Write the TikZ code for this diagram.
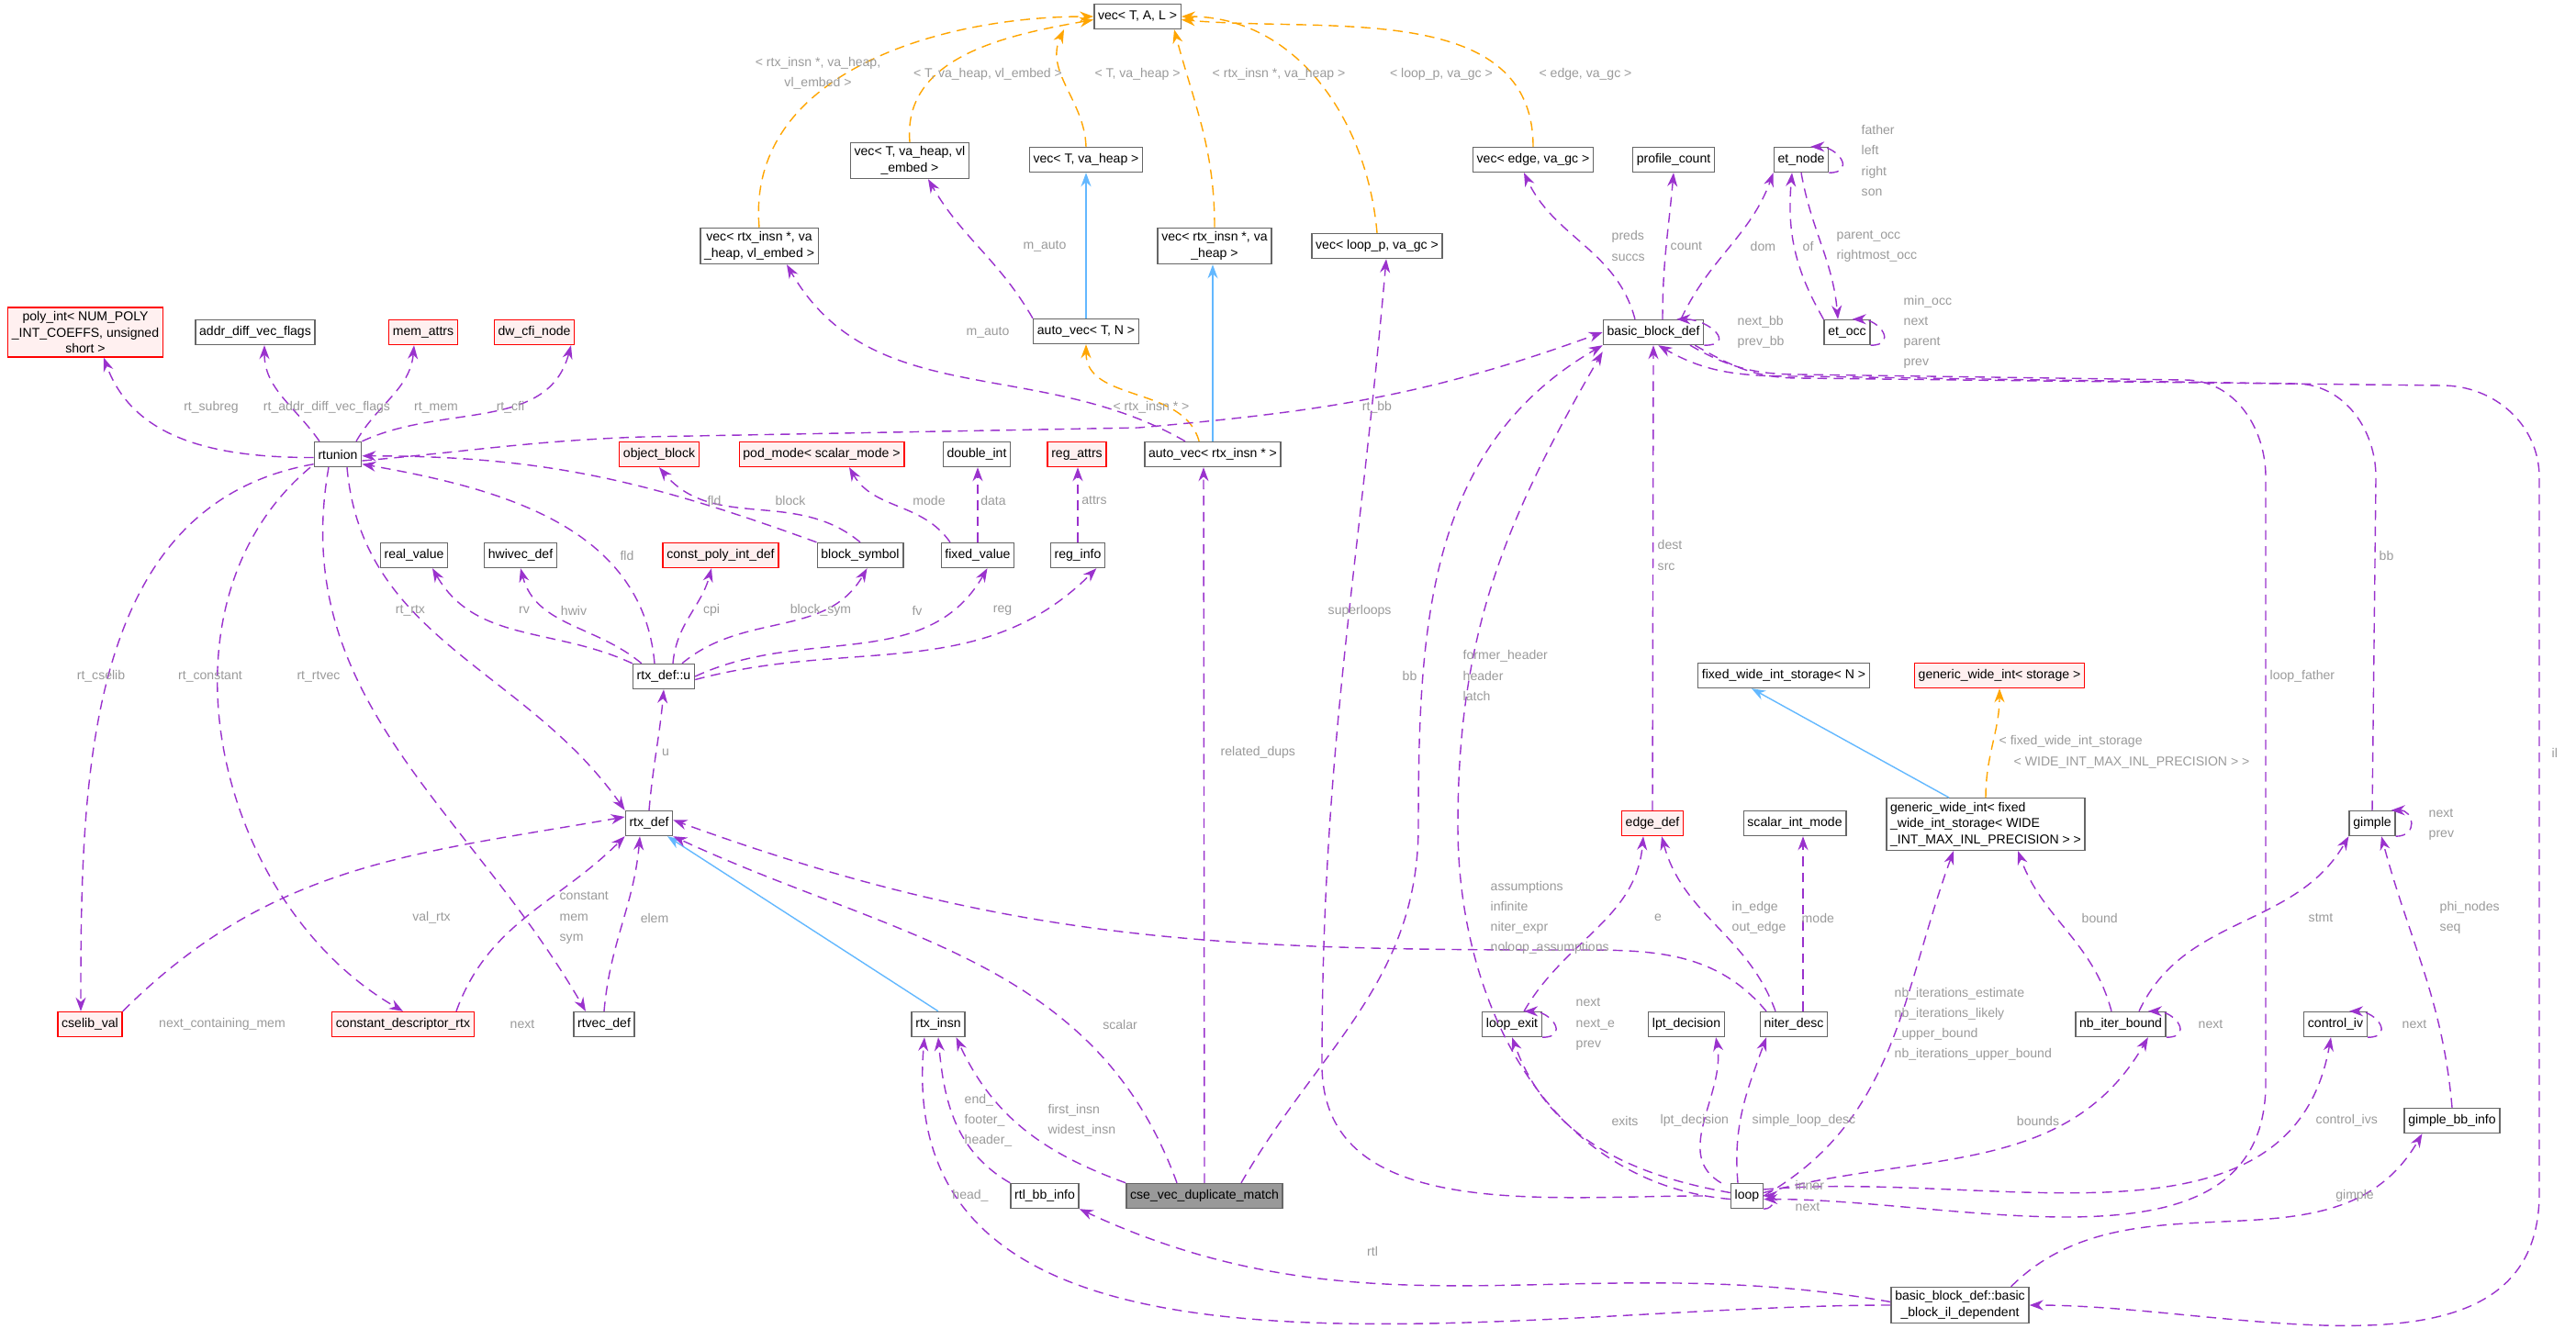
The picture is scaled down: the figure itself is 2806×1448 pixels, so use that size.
\documentclass[tikz,border=0pt]{standalone}
\usepackage{fontspec}
\setmainfont{Liberation Sans}
\usetikzlibrary{arrows.meta}
\definecolor{relcol}{HTML}{9A32CD}
\definecolor{tplcol}{HTML}{FFA500}
\definecolor{inhcol}{HTML}{63B8FF}
\definecolor{lblcol}{HTML}{9A9A9A}
\definecolor{boxcol}{HTML}{666666}
\newcommand{\lt}{\textless}
\newcommand{\gt}{\textgreater}
\begin{document}
\begin{tikzpicture}[x=0.1mm,y=-0.1mm,
  cls/.style={draw=boxcol,fill=white,rectangle,inner sep=1.2pt,minimum height=2.7mm,font=\fontsize{4}{5}\selectfont,align=center},
  undoc/.style={cls,draw=red,fill=red!6},
  cur/.style={cls,fill=black!40},
  rel/.style={draw=relcol,densely dashed,line width=0.4pt,-{Stealth[length=1.5mm,width=1.1mm]}},
  tpl/.style={rel,draw=tplcol,-{Stealth[length=1.5mm,width=1.1mm,fill=tplcol]}},
  inh/.style={draw=inhcol,solid,line width=0.4pt,-{Stealth[length=1.5mm,width=1.1mm,fill=inhcol]}},
  lbl/.style={text=lblcol,font=\fontsize{4}{6.3}\selectfont,inner sep=0pt,align=left},
  lbll/.style={lbl,anchor=west}]
\useasboundingbox (0,0) rectangle (2806,1448);
% classes
\node[cls] (vecTAL) at (1239,18) {vec\lt{} T, A, L \gt};
\node[cls] (vecRIvle) at (827,268) {vec\lt{} rtx\_insn *, va\\\_heap, vl\_embed \gt};
\node[cls] (vecTvle) at (991,175) {vec\lt{} T, va\_heap, vl\\\_embed \gt};
\node[cls] (vecTvh) at (1183,174) {vec\lt{} T, va\_heap \gt};
\node[cls] (vecRIvh) at (1323,268) {vec\lt{} rtx\_insn *, va\\\_heap \gt};
\node[cls] (vecLoop) at (1500,268) {vec\lt{} loop\_p, va\_gc \gt};
\node[cls] (vecEdge) at (1670,174) {vec\lt{} edge, va\_gc \gt};
\node[cls] (profCount) at (1823,174) {profile\_count};
\node[cls] (etNode) at (1962,174) {et\_node};
\node[cls] (bbDef) at (1801,362) {basic\_block\_def};
\node[cls] (etOcc) at (2012,362) {et\_occ};
\node[cls] (autoTN) at (1183,361) {auto\_vec\lt{} T, N \gt};
\node[cls] (autoRI) at (1321,495) {auto\_vec\lt{} rtx\_insn * \gt};
\node[undoc] (polyInt) at (93,362) {poly\_int\lt{} NUM\_POLY\\\_INT\_COEFFS, unsigned\\short \gt};
\node[cls] (addrDiff) at (278,362) {addr\_diff\_vec\_flags};
\node[undoc] (memAttrs) at (461,362) {mem\_attrs};
\node[undoc] (dwCfi) at (582,362) {dw\_cfi\_node};
\node[cls] (rtunion) at (368,495) {rtunion};
\node[undoc] (objBlock) at (718,495) {object\_block};
\node[undoc] (podMode) at (895,495) {pod\_mode\lt{} scalar\_mode \gt};
\node[cls] (doubleInt) at (1064,495) {double\_int};
\node[undoc] (regAttrs) at (1173,495) {reg\_attrs};
\node[cls] (realValue) at (451,605) {real\_value};
\node[cls] (hwivec) at (567,605) {hwivec\_def};
\node[undoc] (constPoly) at (785,605) {const\_poly\_int\_def};
\node[cls] (blockSym) at (937,605) {block\_symbol};
\node[cls] (fixedValue) at (1065,605) {fixed\_value};
\node[cls] (regInfo) at (1174,605) {reg\_info};
\node[cls] (rtxDefU) at (723,737) {rtx\_def::u};
\node[cls] (rtxDef) at (707,897) {rtx\_def};
\node[undoc] (cselibVal) at (98,1116) {cselib\_val};
\node[undoc] (constDesc) at (439,1116) {constant\_descriptor\_rtx};
\node[cls] (rtvecDef) at (658,1116) {rtvec\_def};
\node[cls] (rtxInsn) at (1022,1116) {rtx\_insn};
\node[cls] (rtlBb) at (1138,1303) {rtl\_bb\_info};
\node[cur] (cse) at (1312,1303) {cse\_vec\_duplicate\_match};
\node[cls] (fwiStor) at (1943,736) {fixed\_wide\_int\_storage\lt{} N \gt};
\node[undoc] (gwiStor) at (2178,736) {generic\_wide\_int\lt{} storage \gt};
\node[cls,align=left] (gwiFixed) at (2163,898) {generic\_wide\_int\lt{} fixed\\\_wide\_int\_storage\lt{} WIDE\\\_INT\_MAX\_INL\_PRECISION \gt{} \gt};
\node[undoc] (edgeDef) at (1800,897) {edge\_def};
\node[cls] (scalarMode) at (1955,897) {scalar\_int\_mode};
\node[cls] (gimple) at (2584,897) {gimple};
\node[cls] (loopExit) at (1647,1116) {loop\_exit};
\node[cls] (lptDec) at (1837,1116) {lpt\_decision};
\node[cls] (niterDesc) at (1954,1116) {niter\_desc};
\node[cls] (nbIter) at (2310,1116) {nb\_iter\_bound};
\node[cls] (controlIv) at (2544,1116) {control\_iv};
\node[cls] (gimpleBb) at (2671,1221) {gimple\_bb\_info};
\node[cls] (loop) at (1903,1303) {loop};
\node[cls] (bbIl) at (2135,1422) {basic\_block\_def::basic\\\_block\_il\_dependent};
% templates and inheritance
\draw[tpl] (vecRIvle.north) to[out=95,in=180] (vecTAL.west);
\draw[tpl] (vecTvle.north) to[out=95,in=190] ([yshift=-1pt]vecTAL.west);
\draw[tpl] (vecTvh.north) to[out=92,in=-115] ([xshift=-8mm]vecTAL.south);
\draw[tpl] (vecRIvh.north) to[out=90,in=-75] ([xshift=4mm]vecTAL.south);
\draw[tpl] (vecLoop.north) to[out=95,in=0] (vecTAL.east);
\draw[tpl] (vecEdge.north) to[out=90,in=-5] ([yshift=-1pt]vecTAL.east);
\draw[tpl] ([xshift=6mm]autoRI.north west) to[out=105,in=-90] (autoTN.south);
\draw[tpl] (gwiFixed.north) to[out=90,in=-90] (gwiStor.south);
\draw[inh] (autoTN.north) -- (vecTvh.south);
\draw[inh] (autoRI.north) -- (autoRI.north |- vecRIvh.south);
\draw[inh] (rtxInsn.north) -- ([xshift=2mm]rtxDef.south);
\draw[inh] ([xshift=-4mm]gwiFixed.north) -- ([xshift=-3.5mm]fwiStor.south);
\node[lbl,align=center] (lA) at (891,80) {\lt{} rtx\_insn *, va\_heap,\\vl\_embed \gt};
\node[lbl] (lB) at (1076,81) {\lt{} T, va\_heap, vl\_embed \gt};
\node[lbl] (lC) at (1239,81) {\lt{} T, va\_heap \gt};
\node[lbl] (lD) at (1393,81) {\lt{} rtx\_insn *, va\_heap \gt};
\node[lbl] (lE) at (1570,81) {\lt{} loop\_p, va\_gc \gt};
\node[lbl] (lF) at (1727,81) {\lt{} edge, va\_gc \gt};
\node[lbl] (lG) at (1254,444) {\lt{} rtx\_insn * \gt};
\node[lbll] (lH) at (2177,808) {\lt{} fixed\_wide\_int\_storage};
\node[lbll] (lI) at (2193,831) {\lt{} WIDE\_INT\_MAX\_INL\_PRECISION \gt{} \gt};
% members
\draw[rel] (autoTN.north west) to[out=120,in=-60] ([xshift=2mm]vecTvle.south);
\draw[rel] ([xshift=-3mm]autoRI.north) to[out=150,in=-60] ([xshift=3mm]vecRIvle.south);
\draw[rel] ([yshift=-1pt]rtunion.west) to[out=180,in=-70] ([xshift=2mm]polyInt.south);
\draw[rel] ([xshift=-2mm]rtunion.north) to[out=125,in=-90] ([xshift=1mm]addrDiff.south);
\draw[rel] ([xshift=2mm]rtunion.north) to[out=60,in=-95] ([xshift=-1mm]memAttrs.south);
\draw[rel] (rtunion.north east) to[out=25,in=-105] ([xshift=4mm]dwCfi.south);
\draw[rel] ([yshift=-2pt]rtunion.east) to[out=5,in=182] (700,476) -- (1240,466) to[out=5,in=200] (bbDef.west);
\draw[rel] ([yshift=1pt]rtunion.south west) to[out=190,in=90] ([xshift=-1mm]cselibVal.north);
\draw[rel] ([xshift=-3mm]rtunion.south) to[out=220,in=150] (constDesc.north);
\draw[rel] ([xshift=-1mm]rtunion.south) to[out=260,in=120] ([xshift=-2mm]rtvecDef.north);
\draw[rel] ([xshift=1mm]rtunion.south) to[out=-85,in=125] (rtxDef.north west);
\draw[rel] (blockSym.north) to[out=140,in=-50] (objBlock.south);
\draw[rel] (blockSym.north west) to[out=160,in=0] ([yshift=-0.5pt]rtunion.east);
\draw[rel] ([xshift=-1mm]rtxDefU.north) to[out=95,in=-10] ([yshift=1pt]rtunion.south east);
\draw[rel] ([xshift=-3mm]fixedValue.north) to[out=125,in=-60] ([xshift=3mm]podMode.south);
\draw[rel] (fixedValue.north) -- (fixedValue.north |- doubleInt.south);
\draw[rel] (regInfo.north) -- (regInfo.north |- regAttrs.south);
\draw[rel] (rtxDefU.north west) to[out=155,in=-60] ([xshift=2mm]realValue.south);
\draw[rel] ([xshift=1mm]rtxDefU.north west) to[out=140,in=-75] (hwivec.south);
\draw[rel] ([xshift=1mm]rtxDefU.north) to[out=85,in=-105] ([xshift=-1mm]constPoly.south);
\draw[rel] ([xshift=2mm]rtxDefU.north) to[out=40,in=-120] ([xshift=-4mm]blockSym.south east);
\draw[rel] (rtxDefU.east) to[out=25,in=-120] ([xshift=-3mm]fixedValue.south east);
\draw[rel] ([yshift=-1pt]rtxDefU.east) to[out=15,in=-135] ([xshift=-1mm]regInfo.south east);
\draw[rel] (rtxDef.north) to[out=85,in=-95] (rtxDefU.south);
\draw[rel] (cselibVal.north east) to[out=45,in=190] ([yshift=2pt]rtxDef.west);
\draw[rel] ([xshift=-2mm]constDesc.north east) to[out=70,in=-135] (rtxDef.south west);
\draw[rel] (rtvecDef.north) to[out=85,in=-95] ([xshift=-1mm]rtxDef.south);
\draw[rel] ([xshift=-3mm]cse.north) to[out=110,in=-25] (rtxDef.south east);
\draw[rel] (cse.north west) to[out=160,in=-65] ([xshift=-1mm]rtxInsn.south east);
\draw[rel] (cse.north) -- ([xshift=-1mm]autoRI.south);
\draw[rel] ([xshift=4mm]cse.north) to[out=60,in=-90] (1545,900) to[out=90,in=210] (bbDef.south west);
\draw[rel] (rtlBb.north west) to[out=150,in=-85] (rtxInsn.south);
\draw[rel] (bbIl.west) to[out=180,in=-95] ([xshift=-1.5mm]rtxInsn.south);
\draw[rel] ([yshift=1pt]bbIl.west) to[out=170,in=-25] (rtlBb.south east);
\draw[rel] ([xshift=-2mm]bbIl.north east) to[out=45,in=-120] ([xshift=2mm]gimpleBb.south west);
\draw[rel] ([xshift=-1mm]bbDef.south east) to[out=-30,in=180] (1960,412) -- (2660,420) to[out=0,in=90] (2766,520) -- (2766,1300) to[out=-90,in=0] (bbIl.east);
\draw[rel] ([xshift=-2mm]bbDef.north) to[out=105,in=-65] ([xshift=-1mm]vecEdge.south);
\draw[rel] ([xshift=1mm]bbDef.north) to[out=90,in=-95] (profCount.south);
\draw[rel] ([xshift=3mm]bbDef.north) to[out=65,in=-110] (etNode.south west);
\draw[rel] (bbDef.south east) to[out=0,in=0,looseness=2.2] ([xshift=-3mm]bbDef.north east);
\draw[rel] (etNode.south east) to[out=0,in=0,looseness=2.2] ([xshift=-2mm]etNode.north east);
\draw[rel] (etNode.south) to[out=-80,in=95] ([xshift=-1mm]etOcc.north);
\draw[rel] (etOcc.north west) to[out=120,in=-95] ([xshift=-1mm]etNode.south);
\draw[rel] (etOcc.south east) to[out=0,in=0,looseness=2.2] ([xshift=-2mm]etOcc.north east);
\draw[rel] (edgeDef.north) -- (bbDef.south);
\draw[rel] ([xshift=-3mm]loop.west) to[out=180,in=-90] (1440,1160) to[out=90,in=-95] ([xshift=1mm]vecLoop.south);
\draw[rel] ([yshift=-1pt]loop.west) to[out=175,in=-90] (1588,900) to[out=90,in=-120] ([yshift=-2pt]bbDef.south west);
\draw[rel] ([xshift=4mm]bbDef.south) to[out=-30,in=180] (1960,408) -- (2380,414) to[out=0,in=90] (2468,520) -- (2468,1180) to[out=-90,in=0] ([yshift=-1pt]loop.east);
\draw[rel] (gimple.north) -- (2588,520) to[out=90,in=0] (2500,418) -- (1960,410) to[out=180,in=-30] ([xshift=-5mm]bbDef.south east);
\draw[rel] ([yshift=1pt]loop.west) to[out=170,in=-70] (loopExit.south);
\draw[rel] ([xshift=-1mm]loop.north west) to[out=150,in=-80] ([xshift=-1mm]lptDec.south east);
\draw[rel] ([xshift=-1mm]loop.north) to[out=95,in=-110] ([xshift=-3mm]niterDesc.south);
\draw[rel] (loop.east) to[out=30,in=-110] ([xshift=-3.5mm]gwiFixed.south);
\draw[rel] ([yshift=1pt]loop.east) to[out=15,in=-120] ([xshift=-2mm]nbIter.south east);
\draw[rel] ([yshift=2pt]loop.east) to[out=5,in=-100] ([xshift=3mm]controlIv.south west);
\draw[rel] (loop.south east) to[out=0,in=0,looseness=2.2] (loop.east);
\draw[rel] ([xshift=-2mm]loopExit.north east) to[out=60,in=-95] ([xshift=-1mm]edgeDef.south);
\draw[rel] (loopExit.south east) to[out=0,in=0,looseness=2.2] ([xshift=-2mm]loopExit.north east);
\draw[rel] ([xshift=-2mm]niterDesc.north) to[out=110,in=-75] ([xshift=1mm]edgeDef.south);
\draw[rel] ([xshift=1mm]niterDesc.north) -- ([xshift=1mm]niterDesc.north |- scalarMode.south);
\draw[rel] ([xshift=-3mm]niterDesc.north) to[out=130,in=0] (1700,1035) to[out=180,in=-20] ([yshift=1pt]rtxDef.east);
\draw[rel] ([xshift=-1mm]nbIter.north) to[out=105,in=-70] ([xshift=3.5mm]gwiFixed.south);
\draw[rel] ([xshift=2mm]nbIter.north) to[out=65,in=-120] (gimple.south west);
\draw[rel] (nbIter.south east) to[out=0,in=0,looseness=2.2] ([xshift=-2mm]nbIter.north east);
\draw[rel] (controlIv.south east) to[out=0,in=0,looseness=2.2] ([xshift=-2mm]controlIv.north east);
\draw[rel] (gimple.south east) to[out=0,in=0,looseness=2.2] ([xshift=-0.5mm]gimple.north east);
\draw[rel] (gimpleBb.north) to[out=95,in=-75] ([xshift=1mm]gimple.south);
% member labels
\node[lbl] (l1) at (1138,268) {m\_auto};
\node[lbl] (l2) at (1076,362) {m\_auto};
\node[lbl] (l3) at (230,444) {rt\_subreg};
\node[lbl] (l4) at (356,444) {rt\_addr\_diff\_vec\_flags};
\node[lbl] (l5) at (475,444) {rt\_mem};
\node[lbl] (l6) at (556,444) {rt\_cfi};
\node[lbl] (l7) at (1500,444) {rt\_bb};
\node[lbl] (l8) at (778,545) {fld};
\node[lbl] (l9) at (861,545) {block};
\node[lbl] (l10) at (1012,545) {mode};
\node[lbl] (l11) at (1082,545) {data};
\node[lbl] (l12) at (1192,545) {attrs};
\node[lbl] (l13) at (683,605) {fld};
\node[lbl] (l14) at (447,665) {rt\_rtx};
\node[lbl] (l15) at (571,665) {rv};
\node[lbl] (l16) at (625,665) {hwiv};
\node[lbl] (l17) at (775,665) {cpi};
\node[lbl] (l18) at (894,665) {block\_sym};
\node[lbl] (l19) at (999,665) {fv};
\node[lbl] (l20) at (1092,665) {reg};
\node[lbl] (l21) at (110,737) {rt\_cselib};
\node[lbl] (l22) at (229,737) {rt\_constant};
\node[lbl] (l23) at (347,737) {rt\_rtvec};
\node[lbl] (l24) at (725,820) {u};
\node[lbl] (l25) at (470,1000) {val\_rtx};
\node[lbll] (l26) at (609,1000) {constant\\mem\\sym};
\node[lbl] (l27) at (713,1000) {elem};
\node[lbl] (l28) at (242,1116) {next\_containing\_mem};
\node[lbl] (l29) at (569,1116) {next};
\node[lbl] (l30) at (1220,1116) {scalar};
\node[lbll] (l31) at (1050,1221) {end\_\\footer\_\\header\_};
\node[lbll] (l32) at (1141,1221) {first\_insn\\widest\_insn};
\node[lbl] (l33) at (1057,1303) {head\_};
\node[lbll] (l34) at (1329,820) {related\_dups};
\node[lbll] (l35) at (1755,268) {preds\\succs};
\node[lbll] (l36) at (1819,268) {count};
\node[lbll] (l37) at (1906,268) {dom};
\node[lbll] (l38) at (1963,268) {of};
\node[lbll] (l39) at (2000,268) {parent\_occ\\rightmost\_occ};
\node[lbll] (l40) at (2027,175) {father\\left\\right\\son};
\node[lbll] (l41) at (1892,362) {next\_bb\\prev\_bb};
\node[lbll] (l42) at (2073,362) {min\_occ\\next\\parent\\prev};
\node[lbll] (l43) at (1446,666) {superloops};
\node[lbll] (l44) at (1527,736) {bb};
\node[lbll] (l45) at (1593,736) {former\_header\\header\\latch};
\node[lbll] (l46) at (1805,605) {dest\\src};
\node[lbll] (l47) at (2472,737) {loop\_father};
\node[lbll] (l48) at (2591,605) {bb};
\node[lbll] (l49) at (2779,820) {il};
\node[lbll] (l50) at (1623,1000) {assumptions\\infinite\\niter\_expr\\noloop\_assumptions};
\node[lbl] (l51) at (1806,1000) {e};
\node[lbll] (l52) at (1886,1000) {in\_edge\\out\_edge};
\node[lbll] (l53) at (1962,1000) {mode};
\node[lbll] (l54) at (2267,1000) {bound};
\node[lbll] (l55) at (2514,1000) {stmt};
\node[lbll] (l56) at (2657,1000) {phi\_nodes\\seq};
\node[lbll] (l57) at (2645,898) {next\\prev};
\node[lbll] (l58) at (1716,1116) {next\\next\_e\\prev};
\node[lbll] (l59) at (2394,1116) {next};
\node[lbll] (l60) at (2616,1116) {next};
\node[lbll] (l61) at (2063,1116) {nb\_iterations\_estimate\\nb\_iterations\_likely\\\_upper\_bound\\nb\_iterations\_upper\_bound};
\node[lbl] (l62) at (1770,1221) {exits};
\node[lbll] (l63) at (1808,1221) {lpt\_decision};
\node[lbll] (l64) at (1908,1221) {simple\_loop\_desc};
\node[lbl] (l65) at (2220,1221) {bounds};
\node[lbll] (l66) at (2522,1221) {control\_ivs};
\node[lbl] (l67) at (2565,1303) {gimple};
\node[lbll] (l68) at (1955,1303) {inner\\next};
\node[lbl] (l69) at (1495,1363) {rtl};
\end{tikzpicture}
\end{document}
